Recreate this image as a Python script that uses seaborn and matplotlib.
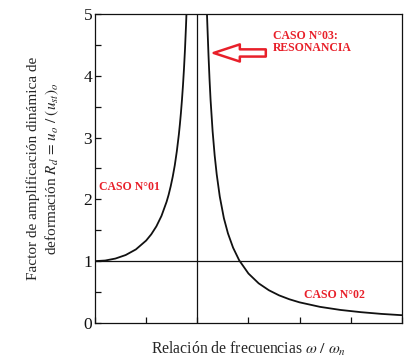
import numpy as np
import pandas as pd
import matplotlib
matplotlib.use("Agg")
import matplotlib.pyplot as plt
import seaborn as sns

# values (Rd vs frequency ratio)
r_left = [0.0, 0.1, 0.2, 0.3, 0.4, 0.5, 0.55, 0.6, 0.65, 0.7, 0.72, 0.74,
          0.76, 0.78, 0.8, 0.82, 0.83, 0.84, 0.85, 0.86, 0.87, 0.88, 0.89,
          0.90]
rd_left = [1.000, 1.010, 1.042, 1.099, 1.190, 1.333, 1.434, 1.563, 1.732,
           1.961, 2.075, 2.211, 2.367, 2.551, 2.778, 3.052, 3.215, 3.397,
           3.604, 3.840, 4.113, 4.433, 4.817, 5.263]
r_right = [1.09, 1.10, 1.11, 1.12, 1.13, 1.15, 1.17, 1.19, 1.22, 1.26, 1.30,
           1.35, 1.41, 1.5, 1.6, 1.7, 1.8, 1.9, 2.0, 2.2, 2.4, 2.6, 2.8, 3.0]
rd_right = [5.219, 4.762, 4.322, 3.937, 3.610, 3.101, 2.712, 2.405, 2.045,
            1.696, 1.449, 1.218, 1.013, 0.800, 0.641, 0.529, 0.446, 0.383,
            0.333, 0.260, 0.210, 0.174, 0.146, 0.125]
y_ticks = [0, 1, 2, 3, 4, 5]

left = pd.DataFrame({"r": r_left, "rd": rd_left})
right = pd.DataFrame({"r": r_right, "rd": rd_right})

sns.set_style("ticks")
plt.rcParams["font.family"] = ["Liberation Serif", "DejaVu Serif"]
plt.rcParams["mathtext.fontset"] = "stix"

fig = plt.figure(figsize=(4.13, 3.60), dpi=100)
ax = fig.add_axes([0.230, 0.103, 0.743, 0.858])

sns.lineplot(data=left, x="r", y="rd", ax=ax, color="#111111", lw=1.3)
sns.lineplot(data=right, x="r", y="rd", ax=ax, color="#111111", lw=1.3)
ax.axvline(1.0, color="#111111", lw=0.9)
ax.axhline(1.0, color="#111111", lw=0.9)

ax.set_xlim(0, 3)
ax.set_ylim(0, 5)
ax.set_xticks(np.arange(0, 3.01, 0.5))
ax.set_xticklabels([])
ax.set_yticks(np.arange(0, 5.01, 0.5))
ax.set_yticklabels([f"{t:.0f}" if t % 1 == 0 else "" for t in np.arange(0, 5.01, 0.5)])
ax.tick_params(direction="in", length=4, width=0.9, labelsize=12.5, colors="#111111")
ax.tick_params(axis="y", pad=2)
for s in ax.spines.values():
    s.set_linewidth(0.9)
    s.set_color("#111111")

ax.set_xlabel(r"Relación de frecuencias $\omega\ /\ \omega_n$", fontsize=11.3, labelpad=9)
ax.set_ylabel("Factor de amplificación dinámica de\n"
              r"deformación $R_d\,=\,u_o\ /\ (u_{st})_o$", fontsize=11, labelpad=16,
              linespacing=1.3)

red = "#e8202a"
ax.text(0.04, 2.2, "CASO N°01", color=red, fontsize=8.5, fontweight="bold", va="center")
ax.text(2.04, 0.45, "CASO N°02", color=red, fontsize=8.5, fontweight="bold", va="center")
ax.text(1.74, 4.55, "CASO N°03:\nRESONANCIA", color=red, fontsize=8.5,
        fontweight="bold", va="center", linespacing=1.0)
ax.annotate("", xy=(1.16, 4.37), xytext=(1.67, 4.37),
            arrowprops=dict(arrowstyle="simple,head_length=1.45,head_width=0.95,tail_width=0.4",
                            fc="white", ec=red, lw=1.8, mutation_scale=13,
                            shrinkA=0, shrinkB=0))

fig.savefig("out.png", dpi=100)
